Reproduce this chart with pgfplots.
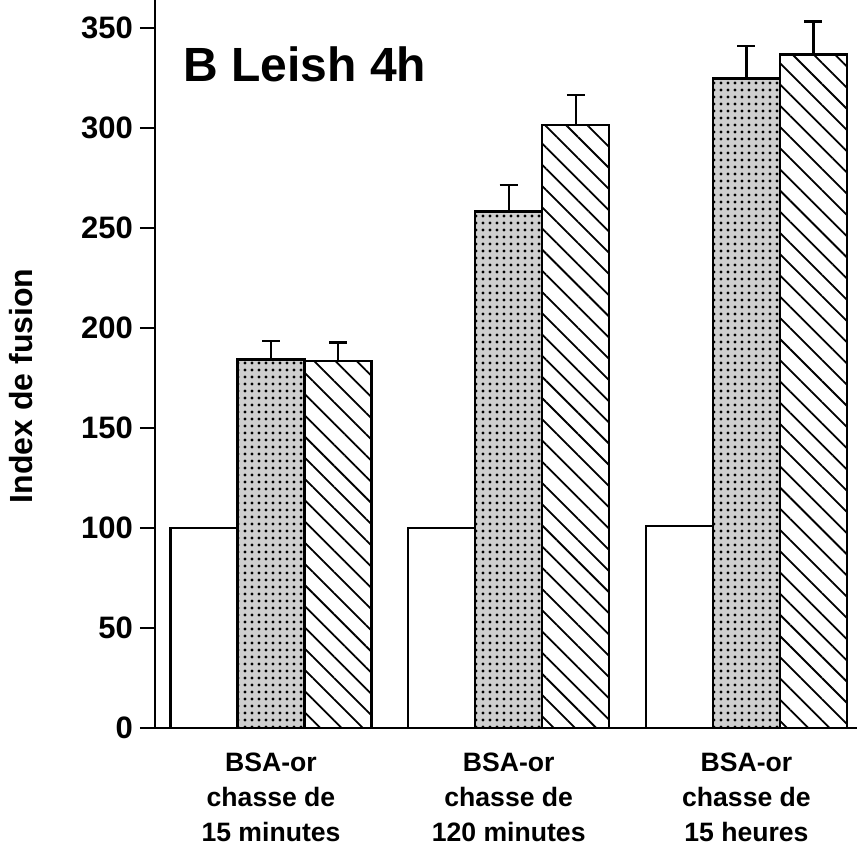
\documentclass[border=0pt]{standalone}
\usepackage{fontspec}
\setmainfont{Liberation Sans}
\usepackage{pgfplots}
\pgfplotsset{compat=1.18}
\usetikzlibrary{patterns.meta}

\begin{document}
\begin{tikzpicture}
\begin{axis}[
  scale only axis,
  width=351pt, height=364pt,
  xmin=-0.488, xmax=2.465,
  ymin=0, ymax=364,
  axis x line=bottom, axis y line=left,
  axis line style={-, line width=1.4pt},
  ytick={0,50,...,350},
  xtick={0,1,2},
  xticklabels={{BSA-or\\chasse de\\15 minutes},{BSA-or\\chasse de\\120 minutes},{BSA-or\\chasse de\\15 heures}},
  xticklabel style={align=center, font=\fontsize{13.3}{17.5}\selectfont\bfseries, yshift=-1.5pt},
  x tick style={draw=none},
  y tick style={line width=1.2pt, black},
  tick align=outside,
  major tick length=7.5pt,
  yticklabel style={font=\fontsize{15.5}{18}\selectfont\bfseries},
  /pgf/number format/assume math mode=true,
  ylabel={Index de fusion},
  ylabel style={font=\fontsize{16}{18}\selectfont\bfseries, at={(axis description cs:-0.191,0.47)}, anchor=center, rotate=0},
  ybar, bar width=0.282,
  clip=false,
  error bars/y dir=plus,
  error bars/y explicit,
  error bars/error bar style={line width=1.2pt, black},
  error bars/error mark options={rotate=90, mark size=4.5pt, line width=1.2pt, black},
]
% white bars (control)
\addplot[draw=black, line width=1.2pt, fill=white, bar shift=-0.282]
  coordinates {(0,100) (1,100) (2,101)};
% dotted bars
\addplot[draw=black, line width=1.2pt, fill=gray!38,
  postaction={pattern={Dots[distance=3.5pt, radius=0.8pt]}, pattern color=black},
  bar shift=0]
  coordinates {(0,184.3) +- (0,9.3) (1,258.2) +- (0,13.3) (2,324.8) +- (0,16.2)};
% hatched bars
\addplot[draw=black, line width=1.2pt, fill=white,
  postaction={pattern={Lines[angle=-45, distance=7.5pt, line width=0.9pt]}, pattern color=black},
  bar shift=0.282]
  coordinates {(0,183.5) +- (0,9.3) (1,301.5) +- (0,15.0) (2,336.8) +- (0,16.4)};

\node[anchor=base west, inner sep=0pt, font=\fontsize{24}{28}\selectfont\bfseries]
  at (axis cs:-0.37,323) {B Leish 4h};

\coordinate (bbl) at (rel axis cs:-0.2208,-0.1717);
\coordinate (btr) at (rel axis cs:1,1);
\end{axis}
\pgfresetboundingbox
\path[use as bounding box] (bbl) rectangle (btr);
\end{tikzpicture}
\end{document}
